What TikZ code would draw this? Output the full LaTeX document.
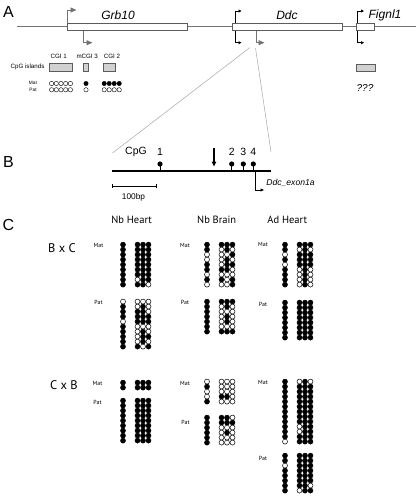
\documentclass[tikz,border=0pt]{standalone}
\usepackage{fontspec}
\setmainfont{Liberation Sans}
\newfontfamily\ptsans{PT Sans}
\usetikzlibrary{arrows.meta}
\colorlet{m1}{black}
\colorlet{m0}{white}
\definecolor{genegray}{gray}{0.45}
\definecolor{cgifill}{gray}{0.82}
\newcommand\mblk[3]{%
  \foreach \s/\a/\b/\c [count=\i from 0] in {#3} {
    \path[mdot, fill=m\s] (#1, #2+\i*5) circle (2.5pt);
    \path[mdot, fill=m\a] (#1+14.5, #2+\i*5) circle (2.5pt);
    \path[mdot, fill=m\b] (#1+20, #2+\i*5) circle (2.5pt);
    \path[mdot, fill=m\c] (#1+25.5, #2+\i*5) circle (2.5pt);
  }%
}
\begin{document}
\begin{tikzpicture}[x=1pt,y=-1pt,
  mdot/.style={draw=black, line width=0.5pt},
  sdot/.style={draw=black, line width=0.4pt},
  panel/.style={font=\fontsize{16}{16}\selectfont, inner sep=0pt},
  genelabel/.style={font=\fontsize{12}{12}\selectfont\itshape, inner sep=0pt},
  genebox/.style={draw=genegray!80!black, line width=0.8pt, fill=white},
  cgibox/.style={draw=genegray!80!black, line width=0.6pt, fill=cgifill},
  small/.style={font=\fontsize{6.2}{6.2}\selectfont, inner sep=0pt},
  tiny/.style={font=\fontsize{4.8}{4.8}\selectfont, inner sep=0pt},
  garrow/.style={draw=genegray, line width=0.8pt, -{Triangle[length=6pt,width=5pt]}},
  karrow/.style={draw=black, line width=0.7pt, -{Triangle[length=3pt,width=3pt]}},
  bnum/.style={font=\fontsize{10.5}{10.5}\selectfont, inner sep=0pt},
  chead/.style={font=\ptsans\fontsize{10.5}{10.5}\selectfont, inner sep=0pt},
  cross/.style={font=\ptsans\fontsize{12.5}{12.5}\selectfont, inner sep=0pt},
  mp/.style={font=\ptsans\fontsize{5.9}{5.9}\selectfont, inner sep=0pt},
  zoomline/.style={draw=gray!70, line width=0.5pt}
]
\useasboundingbox (0,0) rectangle (416,496);

% ---------------- Panel A ----------------
\node[panel] (lA) at (8.5,12) {A};
\coordinate (lineL) at (17,26.5);
\coordinate (lineR) at (416,26.5);
\draw[genegray, line width=0.8pt] (lineL) -- (lineR);
\draw[genebox] (67.3,23.3) rectangle (187.5,30.5);
\draw[genebox] (232.5,23.3) rectangle (342.5,30.5);
\draw[genebox] (356,23.3) rectangle (374.5,30.5);
\node[genelabel] (grb) at (118,15) {Grb10};
\node[genelabel] (ddc) at (287,15) {Ddc};
\node[genelabel] (fig) at (385,15) {Fignl1};

% promoter arrows
\draw[garrow] (67.5,23.3) -- (67.5,10) -- (76.5,10);
\draw[garrow] (83,30.5) -- (83,42.7) -- (92.5,42.7);
\draw[karrow] (235,23.3) -- (235,11) -- (241.5,11);
\draw[karrow] (235,30.5) -- (235,42.7) -- (241.5,42.7);
\draw[garrow] (256,30.5) -- (256,42.7) -- (264.5,42.7);
\draw[karrow] (357.5,23.3) -- (357.5,11) -- (364,11);
\draw[karrow] (357.5,30.5) -- (357.5,42.7) -- (364,42.7);

% CpG islands
\node[small] (cgi1) at (58.7,56.8) {CGI 1};
\node[small] (mcgi3) at (87.2,56.8) {mCGI 3};
\node[small] (cgi2) at (112,56.8) {CGI 2};
\node[small] (cpgi) at (27.5,67) {CpG islands};
\draw[cgibox] (49.3,63.3) rectangle (72.7,71);
\draw[cgibox] (83.5,63.3) rectangle (88,71);
\draw[cgibox] (103.5,63.3) rectangle (115,71);
\draw[cgibox] (356,64.3) rectangle (375.3,71);
\node[tiny] (matA) at (33,83.3) {Mat};
\node[tiny] (patA) at (33,89.6) {Pat};
\foreach \x in {51.6,56.3,61,65.7,70.4} {
  \draw[sdot, fill=white] (\x,83.5) circle (2.2pt);
  \draw[sdot, fill=white] (\x,89.8) circle (2.2pt);
}
\draw[sdot, fill=black] (86,83.5) circle (2.2pt);
\draw[sdot, fill=white] (86,89.8) circle (2.2pt);
\foreach \x in {104.2,109.2,114.2,119.2} {
  \draw[sdot, fill=black] (\x,83.5) circle (2.2pt);
  \draw[sdot, fill=white] (\x,89.8) circle (2.2pt);
}
\node[font=\fontsize{10}{10}\selectfont\itshape, inner sep=0pt] (qqq) at (365,88) {???};

% zoom lines
\coordinate (z1a) at (250,47.5);
\coordinate (z1b) at (112.5,153);
\coordinate (z2a) at (255.5,48);
\coordinate (z2b) at (271,152);
\draw[zoomline] (z1a) -- (z1b);
\draw[zoomline] (z2a) -- (z2b);

% ---------------- Panel B ----------------
\node[panel] (lB) at (8.5,162) {B};
\coordinate (bL) at (112.3,171);
\coordinate (bR) at (270.7,171);
\draw[black, line width=1.2pt] (bL) -- (bR);
\node[bnum] (cpg) at (136,152) {CpG};
\foreach \x/\n in {160/1, 231.7/2, 243.3/3, 253.3/4} {
  \draw[black, line width=0.9pt] (\x,171) -- (\x,164);
  \fill[black] (\x,164) circle (2.6pt);
  \node[bnum] (n\n) at (\x,152) {\n};
}
\coordinate (dnA) at (214,148);
\coordinate (dnB) at (214,166.5);
\draw[black, line width=1.4pt, -{Triangle[length=5pt,width=4.5pt]}] (dnA) -- (dnB);
\coordinate (exA) at (255,171);
\coordinate (exB) at (264,190);
\draw[black, line width=0.6pt, -{Triangle[length=3.5pt,width=3pt]}] (exA) |- (exB);
\node[font=\fontsize{8.6}{8.6}\selectfont\itshape, inner sep=0pt] (exon) at (290.5,182.5) {Ddc\_exon1a};
\coordinate (sbL) at (112.3,186);
\coordinate (sbR) at (156.7,186);
\draw[black, line width=0.5pt] (sbL) -- (sbR);
\draw[black, line width=0.5pt] (112.3,184) -- (112.3,188);
\draw[black, line width=0.5pt] (156.7,184) -- (156.7,188);
\node[font=\fontsize{8.3}{8.3}\selectfont, inner sep=0pt] (bp) at (133.5,197.5) {100bp};

% ---------------- Panel C ----------------
\node[panel] (lC) at (8.5,225) {C};
\node[chead] (h1) at (131.7,220) {Nb Heart};
\node[chead] (h2) at (216.7,220) {Nb Brain};
\node[chead] (h3) at (287.3,220) {Ad Heart};
\node[cross] (bxc) at (62,248) {B x C};
\node[cross] (cxb) at (64,385) {C x B};

\node[mp] (m11) at (98.5,245) {Mat};
\node[mp] (p11) at (98.5,302) {Pat};
\node[mp] (m12) at (185,245) {Mat};
\node[mp] (p12) at (185,302) {Pat};
\node[mp] (m13) at (263,244.5) {Mat};
\node[mp] (p13) at (263,304) {Pat};
\node[mp] (m21) at (97.5,383) {Mat};
\node[mp] (p21) at (97.5,402) {Pat};
\node[mp] (m22) at (185,383) {Mat};
\node[mp] (p22) at (185.5,422) {Pat};
\node[mp] (m23) at (263,382.5) {Mat};
\node[mp] (p23) at (263,458) {Pat};

% B x C
\mblk{123}{244.6}{1/1/1/1,1/1/1/1,1/1/1/1,1/1/1/1,1/1/1/1,1/1/1/1,1/1/1/1,1/0/1/1,1/1/1/0}
\mblk{123}{301.6}{0/0/0/0,1/0/1/0,1/1/1/0,1/1/1/1,0/1/1/1,1/0/0/0,1/0/1/0,1/0/1/1,1/0/1/0,1/1/0/1}
\mblk{207}{244.6}{1/1/1/1,1/0/1/0,0/0/0/1,0/0/1/0,1/0/1/1,1/1/1/0,0/0/0/0,1/1/0/1,0/0/0/1}
\mblk{207}{301.6}{1/1/1/1,1/0/1/0,1/0/0/0,1/0/1/0,1/0/1/0,1/0/0/0,1/1/1/1}
\mblk{285}{244.6}{1/1/1/1,1/0/1/0,0/1/1/1,1/1/1/1,0/1/1/1,1/0/1/0,1/0/1/0,1/0/1/0,1/0/1/0}
\mblk{285}{302.6}{1/1/1/1,1/1/1/1,1/1/1/1,1/1/1/1,1/1/1/1,1/1/1/1,1/1/1/1,1/1/1/1}
% C x B
\mblk{123}{382.6}{1/1/1/1,1/1/1/1}
\mblk{123}{400.6}{1/1/1/1,1/1/1/1,1/1/1/1,1/1/1/1,1/1/1/1,1/1/1/1,1/1/1/1,1/1/1/1,1/1/1/1}
\mblk{207}{381.6}{0/0/0/0,1/0/0/0,0/0/0/0,0/1/1/0,1/0/0/0}
\mblk{207}{417.6}{1/1/1/0,1/1/1/1,1/0/0/0,1/0/1/0,1/0/0/0,1/0/0/0}
\mblk{285}{381.6}{1/0/1/0,1/1/1/1,1/1/1/1,1/1/1/1,1/1/1/1,1/1/1/1,1/1/1/1,1/1/1/1,1/1/1/1,1/0/1/1,1/0/1/1,1/1/1/1,0/1/1/1}
\mblk{285}{455.6}{1/1/1/1,1/1/1/1,0/1/1/1,1/1/1/1,1/1/1/1,1/1/1/1,1/1/1/0,1/0/1/1}
\end{tikzpicture}
\end{document}
